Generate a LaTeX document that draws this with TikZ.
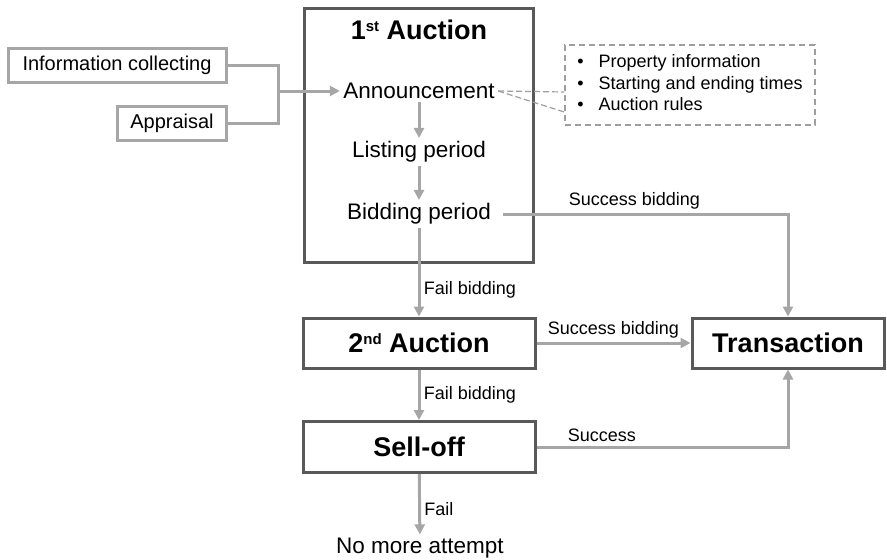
\documentclass[tikz,border=0pt]{standalone}
\usepackage{fontspec}
\setmainfont{Liberation Sans}
\usetikzlibrary{arrows.meta}

\definecolor{boxline}{HTML}{595959}
\definecolor{connline}{HTML}{A6A6A6}
\definecolor{dashline}{HTML}{9E9E9E}

\newcommand{\aucsup}[1]{\raisebox{8.5pt}{\fontsize{15}{15}\selectfont #1}}

\tikzset{
    mainbox/.style={draw=boxline, line width=3pt, inner sep=0pt, minimum height=50pt,
        font=\fontsize{27}{32}\selectfont\bfseries},
    sidebox/.style={draw=connline, line width=3pt, inner sep=0pt, minimum height=34pt,
        font=\fontsize{20}{24}\selectfont},
    steptext/.style={font=\fontsize{22.5}{27}\selectfont},
    edgelabel/.style={font=\fontsize{18}{21}\selectfont},
    conn/.style={draw=connline, line width=3pt},
    connarrow/.style={conn, -{Triangle[length=10pt,width=10pt]}},
    notebox/.style={draw=dashline, line width=1.5pt, dash pattern=on 6pt off 4pt,
        inner sep=0pt, font=\fontsize{18}{21.5}\selectfont},
    callout/.style={draw=dashline, line width=1.2pt, dash pattern=on 6pt off 3pt}
}

\begin{document}
\begin{tikzpicture}[x=1pt,y=-1pt]
    \useasboundingbox (0,0) rectangle (887,560);

    % inputs
    \node[sidebox, minimum width=218pt] (info) at (117,65) {Information collecting};
    \node[sidebox, minimum width=109pt] (appr) at (172,123) {Appraisal};

    % first auction
    \node[mainbox, minimum width=229pt, minimum height=254pt] (auc1) at (418.5,135) {};
    \node[mainbox, draw=none] (auc1t) at (419,30) {1\aucsup{st} Auction};
    \node[steptext] (ann) at (419,91) {Announcement};
    \node[steptext] (list) at (419,152) {Listing period};
    \node[steptext] (bid) at (419,214) {Bidding period};

    \node[notebox, minimum width=250pt, minimum height=80pt] (props) at (690,85) {%
        \begin{tabular}{@{}l@{\hspace{15pt}}l@{}}
            \textbullet & Property information\\
            \textbullet & Starting and ending times\\
            \textbullet & Auction rules
        \end{tabular}};

    % later stages
    \node[mainbox, minimum width=232pt] (auc2) at (419,343) {2\aucsup{nd} Auction};
    \node[mainbox, minimum width=232pt, minimum height=51pt] (sell) at (419,447) {Sell-off};
    \node[mainbox, minimum width=192pt] (trans) at (788,343) {Transaction};
    \node[steptext] (none) at (420,548) {No more attempt};

    % connectors
    \coordinate (join) at (278,91);
    \draw[conn] (info.east) -| (join);
    \draw[conn] (appr.east) -| (join);
    \draw[connarrow] (join) -- (ann.west);

    \draw[callout] (ann.east) -- ([yshift=-7pt]props.west);
    \draw[callout] (ann.east) -- ([yshift=-27pt]props.west);

    \draw[connarrow] (ann) -- (list);
    \draw[connarrow] (list) -- (bid);

    \draw[connarrow] (bid) -- node[edgelabel, right, pos=0.7] {Fail bidding} (auc2);
    \draw[connarrow] ([xshift=9pt]bid.east) -| node[edgelabel, above, pos=0.23] {Success bidding} (trans);
    \draw[connarrow] (auc2) -- node[edgelabel, above] {Success bidding} (trans);
    \draw[connarrow] (auc2) -- node[edgelabel, right] {Fail bidding} (sell);
    \draw[connarrow] (sell) -| node[edgelabel, above, pos=0.13] {Success} (trans);
    \draw[connarrow] (sell) -- node[edgelabel, right, pos=0.58] {Fail} (none);

\end{tikzpicture}
\end{document}
